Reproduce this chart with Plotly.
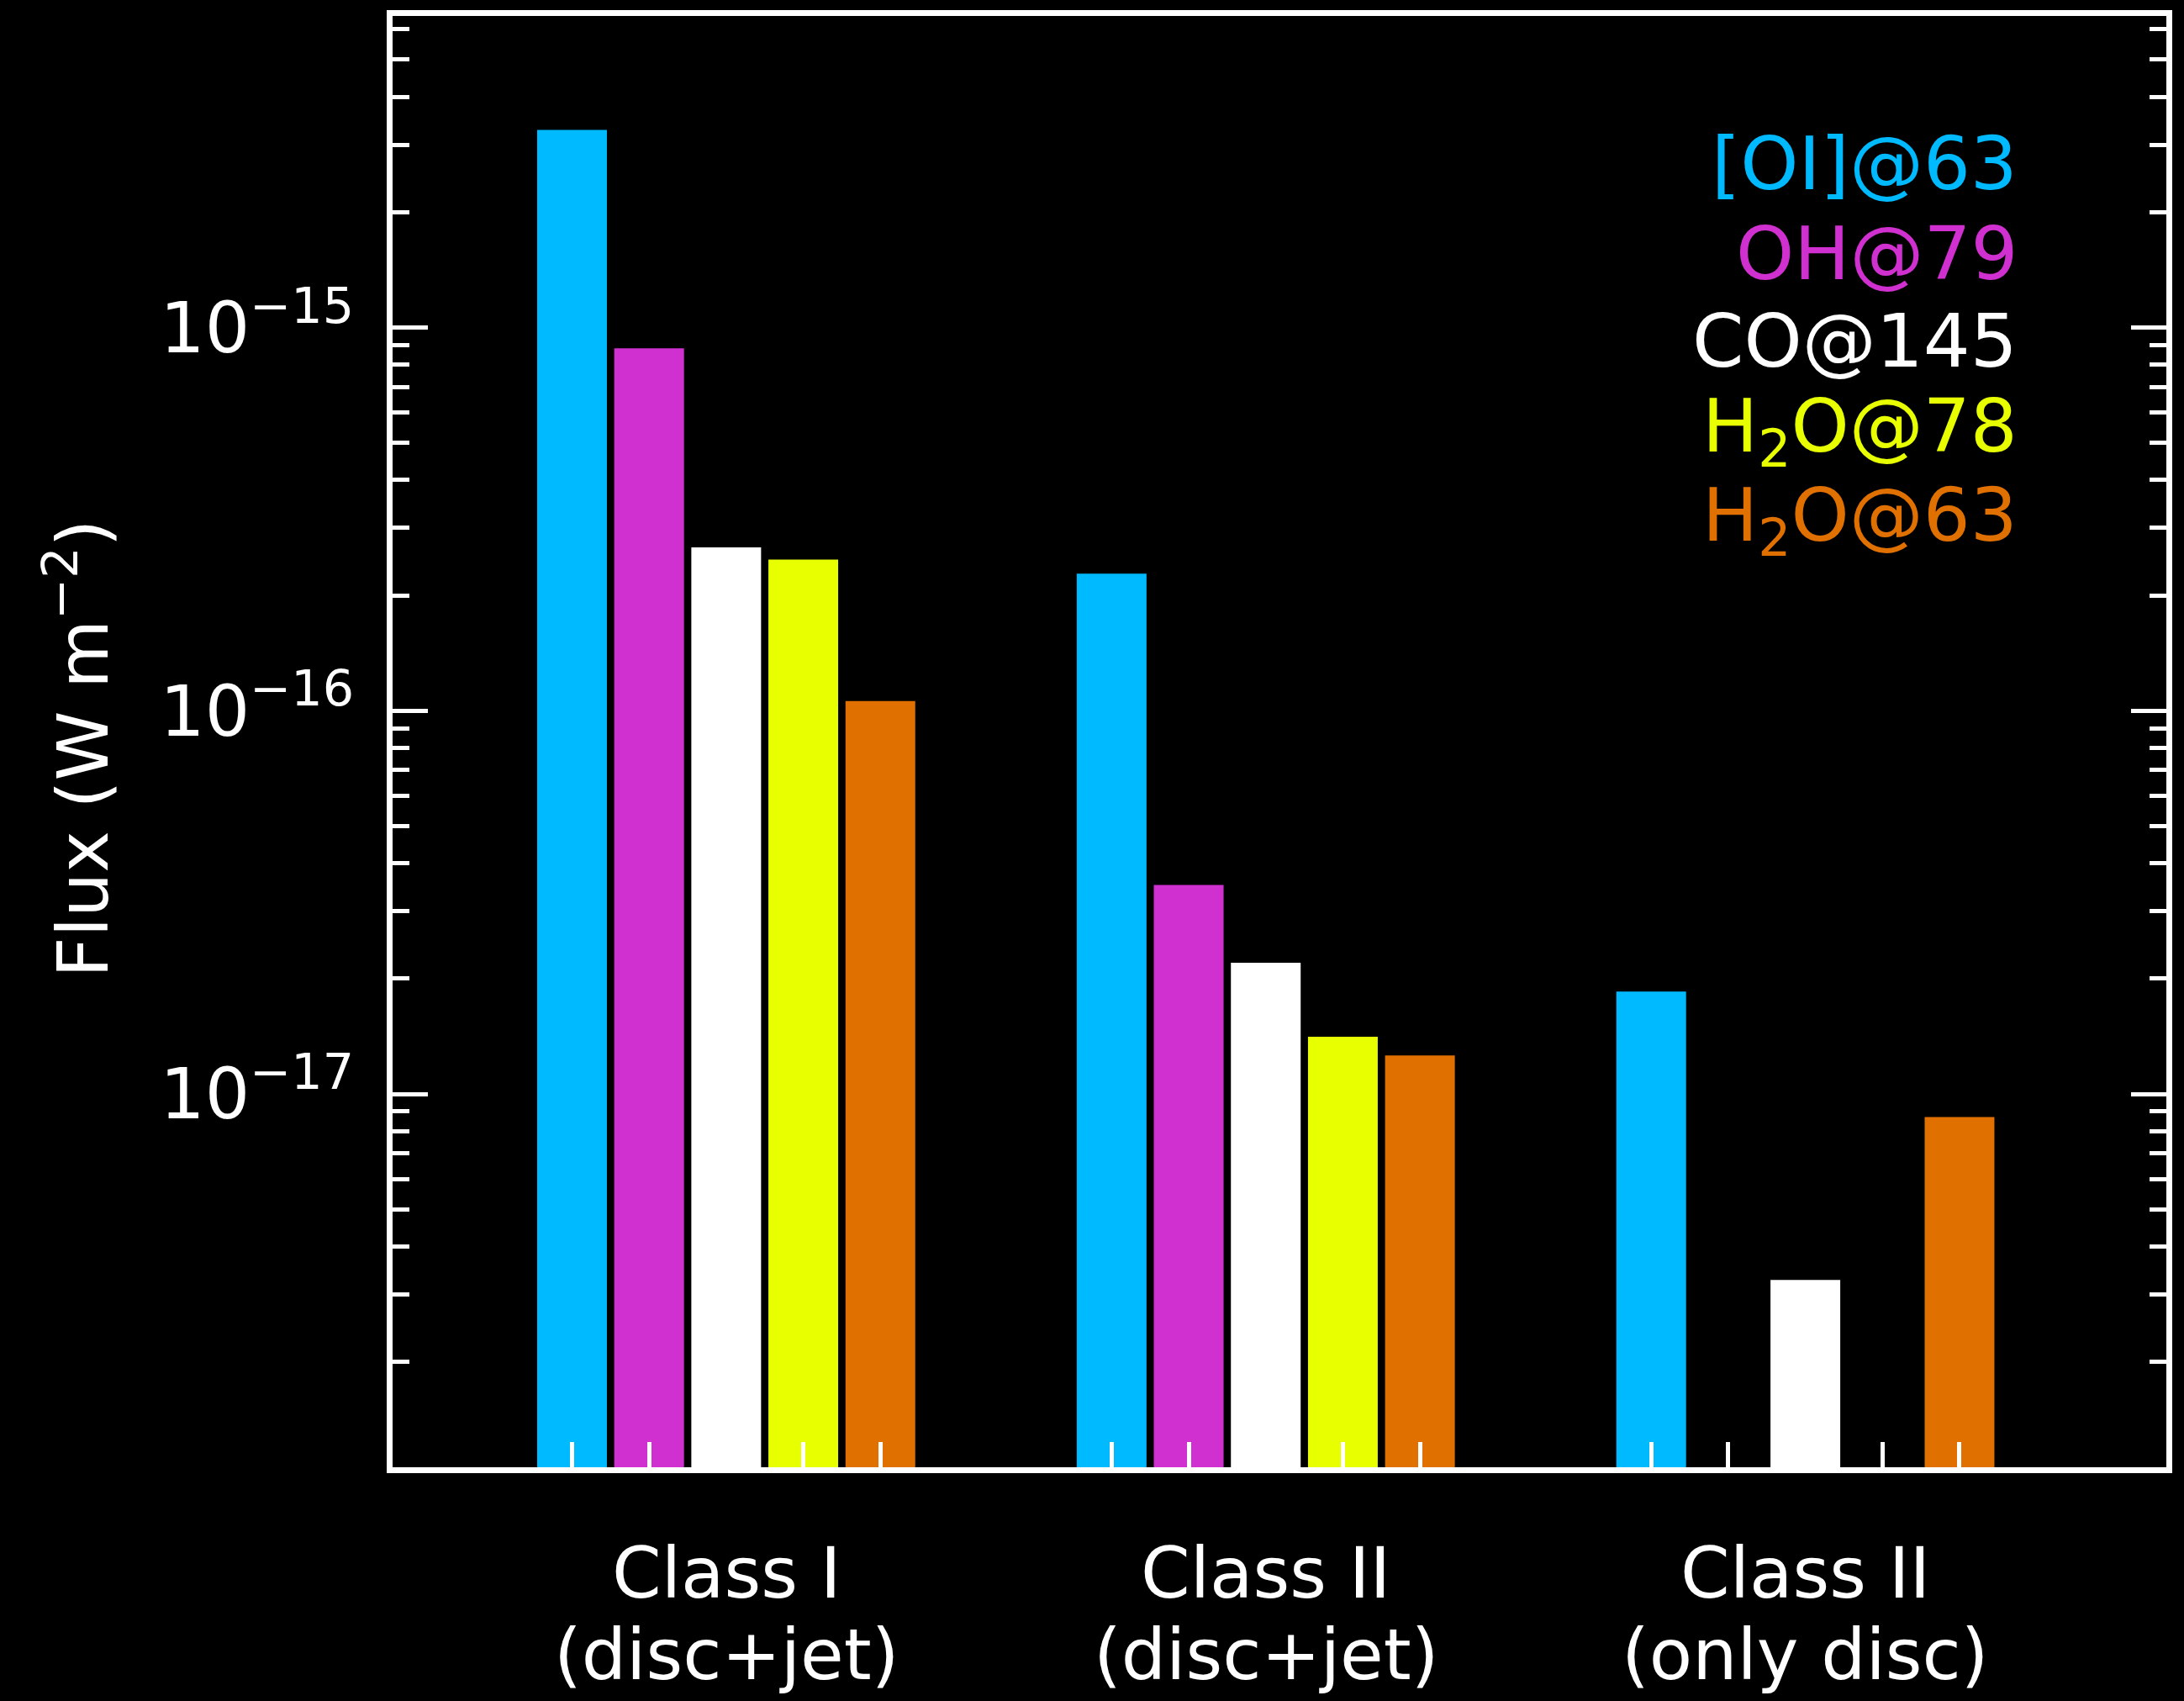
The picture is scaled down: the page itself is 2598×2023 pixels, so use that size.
import plotly.graph_objects as go

# Line fluxes (W m^-2) per source class; None where the line is not detected
categories = ["Class I<br>(disc+jet)", "Class II<br>(disc+jet)", "Class II<br>(only disc)"]
class_line1 = ["Class I", "Class II", "Class II"]
class_line2 = ["(disc+jet)", "(disc+jet)", "(only disc)"]

series_names = ["[OI]@63", "OH@79", "CO@145", "H<sub>2</sub>O@78", "H<sub>2</sub>O@63"]
series_colors = ["#00BAFF", "#D030D0", "#FFFFFF", "#E8FF00", "#E07000"]

oi_63 = [3.28e-15, 2.28e-16, 1.85e-17]
oh_79 = [8.83e-16, 3.51e-17, None]
co_145 = [2.67e-16, 2.20e-17, 3.27e-18]
h2o_78 = [2.48e-16, 1.41e-17, None]
h2o_63 = [1.06e-16, 1.26e-17, 8.71e-18]

series_values = [oi_63, oh_79, co_145, h2o_78, h2o_63]

# Axis decades and minor ticks
major_vals = [1e-17, 1e-16, 1e-15]
major_text = ["10<sup>\u221217</sup>", "10<sup>\u221216</sup>", "10<sup>\u221215</sup>"]
minor_vals = [m * 10.0 ** e for e in (-18, -17, -16, -15) for m in range(2, 10)]

GROUP_STEP = 7  # slot distance between class groups
n_series = len(series_values)
slot_positions = [GROUP_STEP * g + k for g in range(len(categories)) for k in range(n_series)]

FONT = "DejaVu Sans"
fig = go.Figure()

for k, (name, color, vals) in enumerate(zip(series_names, series_colors, series_values)):
    xs = [GROUP_STEP * g + k for g in range(len(vals))]
    fig.add_trace(go.Bar(
        x=xs, y=vals, name=name, width=0.905,
        marker=dict(color=color, line=dict(width=0)),
        showlegend=False,
    ))

annotations = []
# group labels under the axis
for g in range(len(categories)):
    cx = GROUP_STEP * g + (n_series - 1) / 2
    annotations.append(dict(x=cx, xref="x", y=-0.0729, yref="paper", text=class_line1[g],
                            showarrow=False, xanchor="center", yanchor="middle",
                            font=dict(family=FONT, size=84, color="white")))
    annotations.append(dict(x=cx, xref="x", y=-0.129, yref="paper", text=class_line2[g],
                            showarrow=False, xanchor="center", yanchor="middle",
                            font=dict(family=FONT, size=84, color="white")))

# coloured line key in the upper right
legend_y = [0.8981, 0.8362, 0.7760, 0.7141, 0.6527]
for name, color, ly in zip(series_names, series_colors, legend_y):
    annotations.append(dict(x=0.917, xref="paper", y=ly, yref="paper", text=name,
                            showarrow=False, xanchor="right", yanchor="middle",
                            font=dict(family=FONT, size=88, color=color)))

# y-axis title
annotations.append(dict(x=-0.1777, xref="paper", y=0.495, yref="paper",
                        text="Flux (W m<sup>\u22122</sup>)", textangle=-90,
                        showarrow=False, xanchor="center", yanchor="middle",
                        font=dict(family=FONT, size=84, color="white")))

fig.update_layout(
    width=2598, height=2023,
    margin=dict(l=467, r=21, t=17, b=278, pad=0),
    paper_bgcolor="black", plot_bgcolor="black",
    barmode="overlay",
    annotations=annotations,
    font=dict(family=FONT, color="white"),
    xaxis=dict(
        range=[-2.328, 20.683],
        tickmode="array", tickvals=slot_positions, showticklabels=False,
        ticks="inside", ticklen=30, tickwidth=5, tickcolor="white",
        showline=True, linewidth=7, linecolor="white", mirror=True,
        showgrid=False, zeroline=False,
    ),
    yaxis=dict(
        type="log", range=[-17.974, -14.187],
        tickmode="array", tickvals=major_vals, ticktext=major_text,
        ticks="inside", ticklen=42, tickwidth=5, tickcolor="white",
        tickfont=dict(family=FONT, size=84, color="white"),
        ticklabelstandoff=22,
        minor=dict(tickmode="array", tickvals=minor_vals, ticks="inside",
                   ticklen=20, tickwidth=5, tickcolor="white", showgrid=False),
        showline=True, linewidth=7, linecolor="white", mirror="ticks",
        showgrid=False, zeroline=False,
    ),
)

fig.write_html("out.html")
